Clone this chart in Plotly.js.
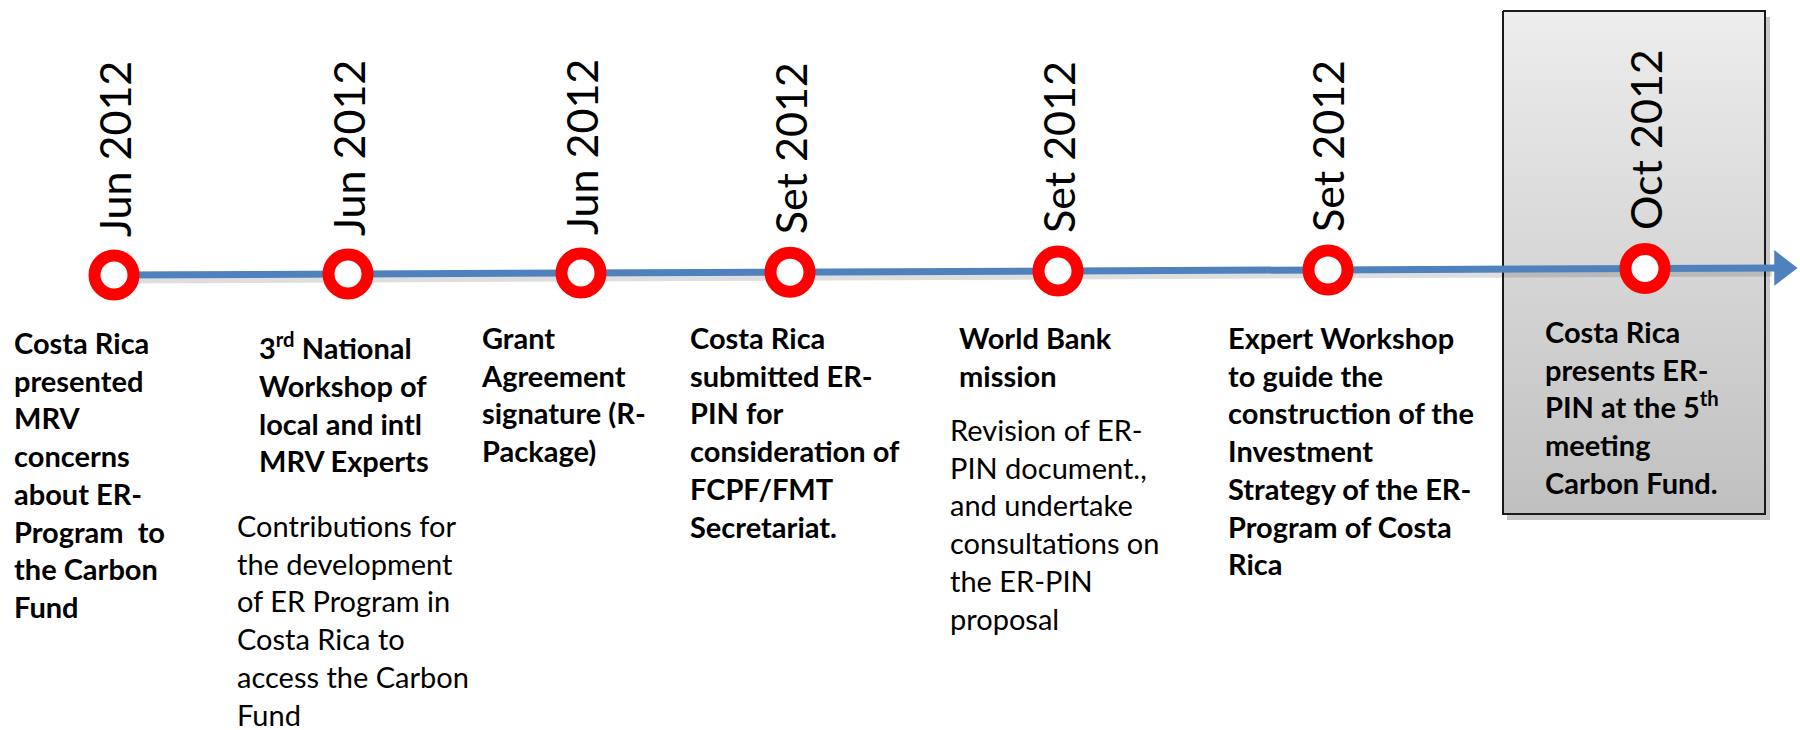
<!DOCTYPE html>
<html>
<head>
<meta charset="utf-8">
<script src="https://cdn.plot.ly/plotly-3.0.1.min.js"></script>
<style>
  html, body { margin: 0; padding: 0; background: #fff; }
  #timeline-div { width: 1800px; height: 730px; }
</style>
</head>
<body>
<div id="timeline-div"></div>
<script>
// timeline data
const dates = ['Jun 2012', 'Jun 2012', 'Jun 2012', 'Set 2012', 'Set 2012', 'Set 2012', 'Oct 2012'];
const headlines = [
    'Costa Rica<br>presented<br>MRV<br>concerns<br>about ER-<br>Program  to<br>the Carbon<br>Fund',
    '3<sup>rd</sup> National<br>Workshop of<br>local and intl<br>MRV Experts',
    'Grant<br>Agreement<br>signature (R-<br>Package)',
    'Costa Rica<br>submitted ER-<br>PIN for<br>consideration of<br>FCPF/FMT<br>Secretariat.',
    'World Bank<br>mission',
    'Expert Workshop<br>to guide the<br>construction of the<br>Investment<br>Strategy of the ER-<br>Program of Costa<br>Rica',
    'Costa Rica<br>presents ER-<br>PIN at the 5<sup>th</sup><br>meeting<br>Carbon Fund.'
];
const details = [
    '',
    'Contributions for<br>the development<br>of ER Program in<br>Costa Rica to<br>access the Carbon<br>Fund',
    '',
    '',
    'Revision of ER-<br>PIN document.,<br>and undertake<br>consultations on<br>the ER-PIN<br>proposal',
    '',
    ''
];

// layout of the slide (pixel units, y grows downward)
const slotX = [114, 348, 581, 790, 1058, 1328, 1645];
const headX = [13, 258, 480, 689, 958, 1227, 1544];
const headTop = [324, 326, 319, 319, 319, 319, 313];
const detailX = [0, 236, 0, 0, 949, 0, 0];
const detailTop = [0, 507, 0, 0, 411, 0, 0];
const lineStart = 114, lineEnd = 1782;
const boxL = 1503, boxR = 1765, boxT = 11, boxB = 514;

// the arrow drifts up a little from left to right
function lineY(x) {
    return 275 - (x - lineStart) * 7 / 1661;
}

const FONT = 'Lato, "Open Sans", sans-serif';

let traces = [];

// grey highlight box behind the last event
traces.push({
    x: [boxL, boxR, boxR, boxL, boxL],
    y: [boxT, boxT, boxB, boxB, boxT],
    mode: 'lines',
    fill: 'toself',
    fillgradient: {
        type: 'vertical',
        start: boxT,
        stop: boxB,
        colorscale: [[0, '#EDEDED'], [1, '#C0C0C0']]
    },
    line: { color: '#1a1a1a', width: 2 },
    hoverinfo: 'skip'
});

// shadow of the arrow
traces.push({
    x: [lineStart, lineEnd - 10],
    y: [lineY(lineStart) + 4, lineY(lineEnd) + 4],
    mode: 'lines',
    line: { color: 'rgba(0,0,0,0.13)', width: 9 },
    hoverinfo: 'skip'
});

// arrow shaft
traces.push({
    x: [lineStart, lineEnd],
    y: [lineY(lineStart), lineY(lineEnd)],
    mode: 'lines',
    line: { color: '#4F81BD', width: 7 },
    hoverinfo: 'skip'
});

// arrow head
traces.push({
    x: [lineEnd],
    y: [lineY(lineEnd)],
    mode: 'markers',
    marker: { symbol: 'triangle-right', size: 31, color: '#4F81BD' },
    hoverinfo: 'skip'
});

// event markers
traces.push({
    x: slotX,
    y: slotX.map(lineY),
    mode: 'markers',
    marker: {
        size: 39,
        color: '#FFFFFF',
        line: { color: '#FF0000', width: 12 }
    },
    text: dates,
    hoverinfo: 'text'
});

let annotations = [];
for (let i = 0; i < dates.length; i++) {
    // rotated date above the marker
    annotations.push({
        x: slotX[i],
        y: lineY(slotX[i]) - 37,
        xref: 'x', yref: 'y',
        text: dates[i],
        textangle: -90,
        showarrow: false,
        xanchor: 'center',
        yanchor: 'bottom',
        borderpad: 0,
        font: { family: FONT, size: 43, color: '#000' }
    });
    // bold headline below
    annotations.push({
        x: headX[i],
        y: headTop[i],
        xref: 'x', yref: 'y',
        text: '<b>' + headlines[i] + '</b>',
        showarrow: false,
        xanchor: 'left',
        yanchor: 'top',
        align: 'left',
        borderpad: 0,
        font: { family: FONT, size: 29, color: '#000' }
    });
    if (details[i] !== '') {
        annotations.push({
            x: detailX[i],
            y: detailTop[i],
            xref: 'x', yref: 'y',
            text: details[i],
            showarrow: false,
            xanchor: 'left',
            yanchor: 'top',
            align: 'left',
            borderpad: 0,
            font: { family: FONT, size: 29, color: '#000' }
        });
    }
}

const layout = {
    width: 1800,
    height: 730,
    margin: { l: 0, r: 0, t: 0, b: 0 },
    paper_bgcolor: '#FFFFFF',
    plot_bgcolor: '#FFFFFF',
    showlegend: false,
    xaxis: { range: [0, 1800], visible: false, fixedrange: true },
    yaxis: { range: [730, 0], visible: false, fixedrange: true },
    shapes: [{
        // drop shadow of the highlight box
        type: 'rect', xref: 'x', yref: 'y', layer: 'below',
        x0: boxL + 4, x1: boxR + 5, y0: boxT + 6, y1: boxB + 6,
        fillcolor: 'rgba(0,0,0,0.22)', line: { width: 0 }
    }],
    annotations: annotations
};

Plotly.newPlot('timeline-div', traces, layout, { staticPlot: true });
</script>
</body>
</html>
